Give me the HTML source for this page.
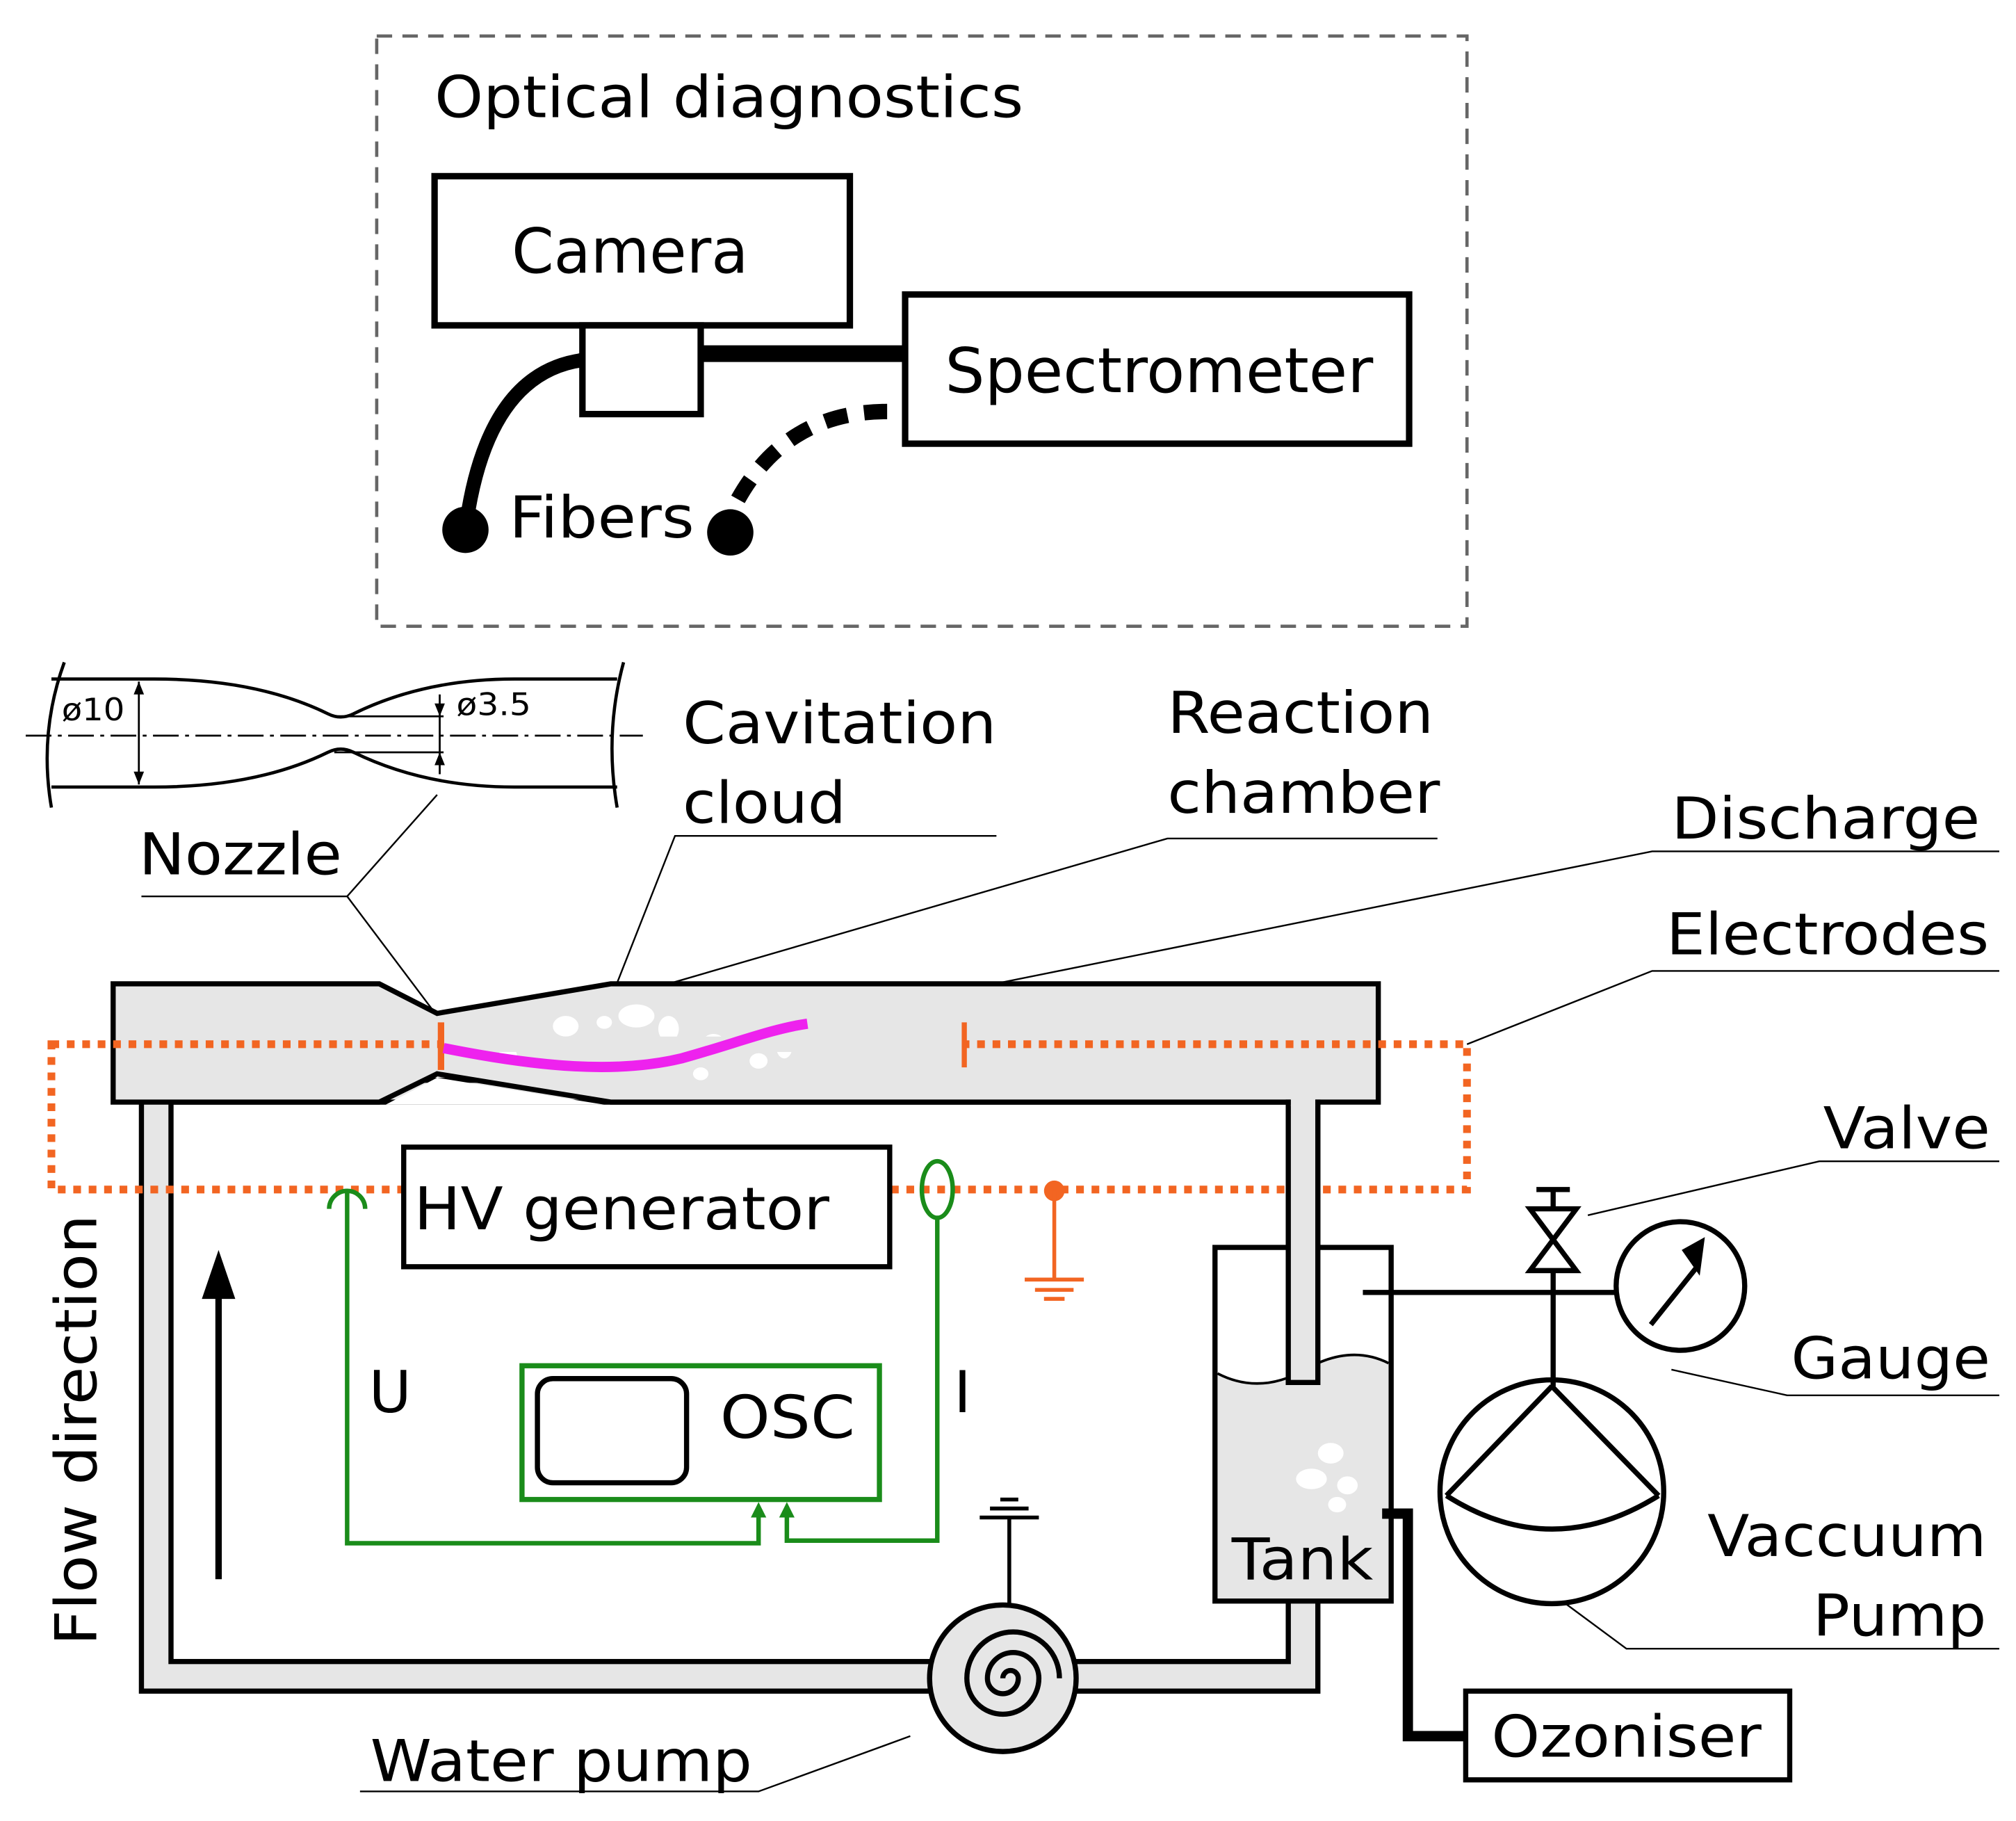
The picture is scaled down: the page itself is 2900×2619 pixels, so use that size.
<!DOCTYPE html>
<html><head><meta charset="utf-8"><style>
html,body{margin:0;padding:0;background:#fff}
svg{display:block}
text{font-family:"DejaVu Sans","Liberation Sans",sans-serif;fill:#000}
</style></head><body>
<svg width="2900" height="2619" viewBox="0 0 1568 1416" preserveAspectRatio="none" xmlns="http://www.w3.org/2000/svg">
<!-- Optical diagnostics -->
<rect x="293" y="28" width="848" height="459" fill="none" stroke="#666" stroke-width="2.5" stroke-dasharray="12 8"/>
<text x="338" y="91" font-size="45" textLength="458" lengthAdjust="spacingAndGlyphs">Optical diagnostics</text>
<rect x="338" y="137" width="323" height="116" fill="#fff" stroke="#000" stroke-width="5"/>
<text x="398" y="212" font-size="48" textLength="184" lengthAdjust="spacingAndGlyphs">Camera</text>
<rect x="453" y="253" width="92" height="69" fill="#fff" stroke="#000" stroke-width="5"/>
<line x1="545" y1="275" x2="704" y2="275" stroke="#000" stroke-width="13"/>
<rect x="704" y="229" width="392" height="116" fill="#fff" stroke="#000" stroke-width="5"/>
<text x="735" y="305" font-size="48" textLength="333" lengthAdjust="spacingAndGlyphs">Spectrometer</text>
<path d="M453 280 Q380 290 363 405" fill="none" stroke="#000" stroke-width="11"/>
<circle cx="362" cy="412" r="18"/>
<path d="M690 320 Q610 320 572 392" fill="none" stroke="#000" stroke-width="12" stroke-dasharray="18 13"/>
<circle cx="568" cy="414" r="18"/>
<text x="396" y="418" font-size="45" textLength="144" lengthAdjust="spacingAndGlyphs">Fibers</text>

<!-- Nozzle inset -->
<g fill="none" stroke="#000" stroke-width="2.5">
<path d="M40 528 H120 Q200 528 255 555 Q265 560 275 555 Q330 528 400 528 H480"/>
<path d="M40 612 H120 Q200 612 255 585 Q265 580 275 585 Q330 612 400 612 H480"/>
<path d="M50 515 Q30 570 40 628"/><path d="M485 515 Q470 570 480 628"/>
<line x1="20" y1="572" x2="500" y2="572" stroke-width="1.5" stroke-dasharray="20 5 3 5"/>
<line x1="260" y1="557" x2="345" y2="557" stroke-width="1.5"/>
<line x1="260" y1="585" x2="345" y2="585" stroke-width="1.5"/>
<line x1="108" y1="530" x2="108" y2="610" stroke-width="1.5"/>
<line x1="342" y1="540" x2="342" y2="602" stroke-width="1.5"/>
</g>
<path d="M104 540 L108 530 L112 540 Z M104 600 L108 610 L112 600 Z M338 547 L342 557 L346 547 Z M338 595 L342 585 L346 595 Z"/>
<text x="48" y="560" font-size="24" textLength="49" lengthAdjust="spacingAndGlyphs">ø10</text>
<text x="355" y="556" font-size="24" textLength="58" lengthAdjust="spacingAndGlyphs">ø3.5</text>

<!-- leader labels -->
<g fill="none" stroke="#000" stroke-width="1.3">
<path d="M110 697 H270 L340 618 M270 697 L340 790"/>
<path d="M775 650 H525 L460 815"/>
<path d="M1118 652 H908 L520 765"/>
<path d="M1555 662 H1285 L625 795"/>
<path d="M1555 755 H1285 L1141 812"/>
<path d="M1555 903 H1415 L1235 945"/>
<path d="M1555 1085 H1390 L1300 1065"/>
<path d="M1555 1282 H1265 L1215 1245"/>
<path d="M280 1393 H590 L708 1350"/>
</g>
<g font-size="45">
<text x="108" y="680" textLength="158" lengthAdjust="spacingAndGlyphs">Nozzle</text>
<text x="531" y="578" textLength="244" lengthAdjust="spacingAndGlyphs">Cavitation</text>
<text x="531" y="640" textLength="127" lengthAdjust="spacingAndGlyphs">cloud</text>
<text x="908" y="570" textLength="207" lengthAdjust="spacingAndGlyphs">Reaction</text>
<text x="908" y="632" textLength="212" lengthAdjust="spacingAndGlyphs">chamber</text>
<text x="1300" y="652" textLength="240" lengthAdjust="spacingAndGlyphs">Discharge</text>
<text x="1296" y="742" textLength="251" lengthAdjust="spacingAndGlyphs">Electrodes</text>
<text x="1418" y="893" textLength="130" lengthAdjust="spacingAndGlyphs">Valve</text>
<text x="1393" y="1072" textLength="155" lengthAdjust="spacingAndGlyphs">Gauge</text>
<text x="1328" y="1210" textLength="217" lengthAdjust="spacingAndGlyphs">Vaccuum</text>
<text x="1410" y="1272" textLength="135" lengthAdjust="spacingAndGlyphs">Pump</text>
<text x="288" y="1385" textLength="297" lengthAdjust="spacingAndGlyphs">Water pump</text>
</g>

<!-- pipe loop -->
<rect x="110" y="840" width="915" height="475" fill="#e6e6e6" stroke="#000" stroke-width="4"/>
<rect x="133" y="857" width="869" height="435" fill="#fff" stroke="#000" stroke-width="4"/>
<!-- chamber -->
<path d="M88 765 H295 L340 788 L475 765 H1072 V857 H475 L340 835 L295 857 H88 Z" fill="#e6e6e6" stroke="#000" stroke-width="4"/>
<path d="M300 859 L340 838 L470 859 Z" fill="#fff"/>
<g fill="#fff">
<ellipse cx="440" cy="798" rx="10" ry="8"/><ellipse cx="495" cy="790" rx="14" ry="9"/><ellipse cx="520" cy="800" rx="8" ry="10"/>
<ellipse cx="470" cy="795" rx="6" ry="5"/><ellipse cx="555" cy="810" rx="8" ry="6"/><ellipse cx="590" cy="825" rx="7" ry="6"/>
<ellipse cx="610" cy="815" rx="6" ry="8"/><ellipse cx="395" cy="820" rx="7" ry="5"/><ellipse cx="545" cy="835" rx="6" ry="5"/>
</g>
<!-- orange electrodes loop -->
<rect x="40" y="812" width="1101" height="113" fill="none" stroke="#f26522" stroke-width="6" stroke-dasharray="6 6"/>
<rect x="345" y="806" width="403" height="12" fill="#e6e6e6"/>
<line x1="343" y1="795" x2="343" y2="832" stroke="#f26522" stroke-width="5"/>
<line x1="750" y1="795" x2="750" y2="830" stroke="#f26522" stroke-width="4"/>
<path d="M345 815 C420 830 480 835 530 823 C570 812 600 800 628 796" fill="none" stroke="#ee22ee" stroke-width="8"/>
<circle cx="820" cy="926" r="8" fill="#f26522"/>
<g stroke="#f26522" stroke-width="3"><line x1="820" y1="926" x2="820" y2="995"/><line x1="797" y1="995" x2="843" y2="995"/><line x1="805" y1="1003" x2="835" y2="1003"/><line x1="812" y1="1010" x2="828" y2="1010"/></g>

<!-- HV generator -->
<rect x="314" y="892" width="378" height="93" fill="#fff" stroke="#000" stroke-width="4"/>
<text x="322" y="956" font-size="46" textLength="323" lengthAdjust="spacingAndGlyphs">HV generator</text>

<!-- green wiring -->
<g fill="none" stroke="#1a8c1a" stroke-width="3.5">
<path d="M256 940 A14 14 0 0 1 284 940"/>
<path d="M270 926 V1200 H590 V1175"/>
<ellipse cx="729" cy="925" rx="12" ry="22"/>
<path d="M729 947 V1198 H612 V1175"/>
<rect x="406" y="1062" width="278" height="104" stroke-width="4"/>
</g>
<path d="M584 1180 L590 1168 L596 1180 Z M606 1180 L612 1168 L618 1180 Z" fill="#1a8c1a"/>
<rect x="418" y="1072" width="116" height="81" rx="12" fill="none" stroke="#000" stroke-width="4"/>
<text x="560" y="1118" font-size="46" textLength="105" lengthAdjust="spacingAndGlyphs">OSC</text>
<text x="287" y="1098" font-size="45">U</text>
<text x="742" y="1098" font-size="45">I</text>

<!-- flow direction -->
<text transform="translate(75,1112) rotate(-90)" font-size="45" text-anchor="middle" textLength="335" lengthAdjust="spacingAndGlyphs">Flow direction</text>
<line x1="170" y1="1228" x2="170" y2="1000" stroke="#000" stroke-width="5"/>
<path d="M157 1010 L170 972 L183 1010 Z"/>

<!-- water pump -->
<g stroke="#000" stroke-width="3" fill="none"><line x1="785" y1="1250" x2="785" y2="1180"/><line x1="762" y1="1180" x2="808" y2="1180"/><line x1="770" y1="1173" x2="800" y2="1173"/><line x1="778" y1="1166" x2="792" y2="1166"/></g>
<circle cx="780" cy="1305" r="57" fill="#e6e6e6" stroke="#000" stroke-width="4"/>
<path d="M780 1305 a6 6 0 0 1 12 0 a12 12 0 0 1 -24 0 a20 20 0 0 1 40 0 a28 28 0 0 1 -56 0 a36 36 0 0 1 72 0" fill="none" stroke="#000" stroke-width="4"/>

<!-- tank -->
<path d="M945 970 H1082 V1245 H945 Z" fill="#fff" stroke="#000" stroke-width="4"/>
<path d="M947 1068 Q980 1085 1015 1065 Q1050 1045 1080 1060 V1243 H947 Z" fill="#e6e6e6"/>
<path d="M947 1068 Q980 1085 1015 1065 Q1050 1045 1080 1060" fill="none" stroke="#000" stroke-width="2"/>
<rect x="1002" y="857" width="23" height="218" fill="#e6e6e6" stroke="#000" stroke-width="4"/>
<rect x="1004" y="850" width="19" height="10" fill="#e6e6e6"/>
<g fill="#fff"><ellipse cx="1035" cy="1130" rx="10" ry="8"/><ellipse cx="1020" cy="1150" rx="12" ry="8"/><ellipse cx="1048" cy="1155" rx="8" ry="7"/><ellipse cx="1040" cy="1170" rx="7" ry="6"/></g>
<text x="958" y="1228" font-size="45" textLength="110" lengthAdjust="spacingAndGlyphs">Tank</text>
<path d="M1075 1177 H1095 V1350 H1140" fill="none" stroke="#000" stroke-width="8"/>
<rect x="1140" y="1315" width="252" height="69" fill="#fff" stroke="#000" stroke-width="4"/>
<text x="1160" y="1366" font-size="45" textLength="210" lengthAdjust="spacingAndGlyphs">Ozoniser</text>

<!-- valve, gauge, vacuum pump -->
<g stroke="#000" stroke-width="4" fill="none">
<line x1="1060" y1="1005" x2="1258" y2="1005"/>
<line x1="1208" y1="925" x2="1208" y2="1078"/>
<line x1="1195" y1="925" x2="1221" y2="925"/>
<path d="M1190 940 L1226 940 L1190 988 L1226 988 Z" fill="#fff"/>
<circle cx="1307" cy="1000" r="50" fill="#fff"/>
<line x1="1284" y1="1030" x2="1320" y2="985"/>
<circle cx="1207" cy="1160" r="87"/>
<path d="M1207 1078 L1125 1163 M1207 1078 L1290 1163"/>
<path d="M1125 1163 Q1207 1215 1290 1163"/>
</g>
<path d="M1308 972 L1326 962 L1322 992 Z"/>
</svg>
</body></html>
